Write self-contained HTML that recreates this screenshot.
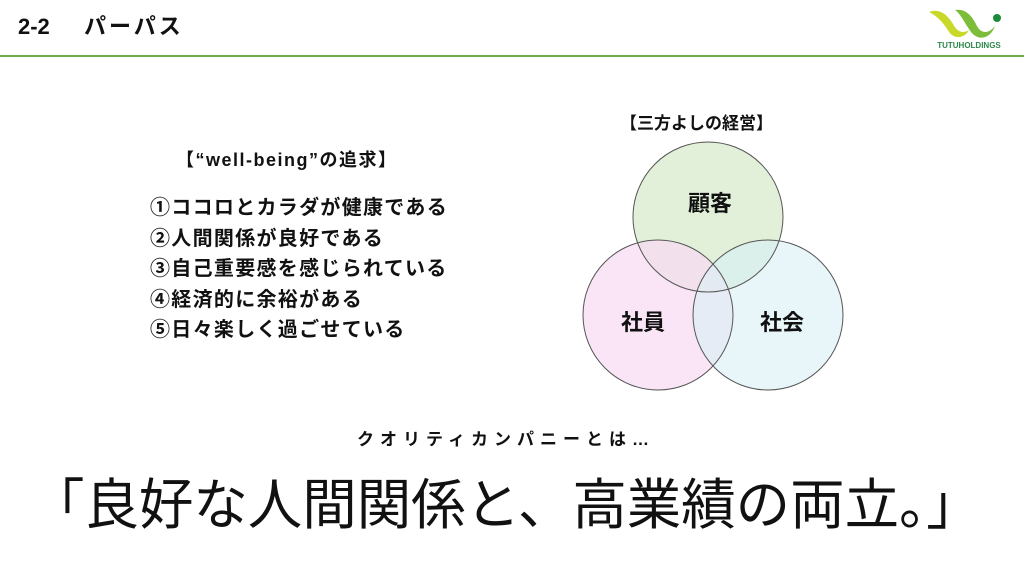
<!DOCTYPE html>
<html><head><meta charset="utf-8"><style>
body{margin:0;width:1024px;height:576px;background:#fff;position:relative;overflow:hidden;font-family:"Liberation Sans","Noto Sans CJK JP",sans-serif;color:#111}
.a{position:absolute;white-space:nowrap}
</style></head><body>
<div class="a" style="left:18px;top:13px;font-size:22px;font-weight:bold;line-height:28px">2-2</div>
<div class="a" style="left:84px;top:13px;font-size:22px;font-weight:bold;line-height:28px;letter-spacing:3px">パーパス</div>
<div class="a" style="left:0;top:55px;width:1024px;height:2px;background:#70ad47"></div>
<svg class="a" style="left:925px;top:4px" width="90" height="48" viewBox="0 0 90 48">
<path d="M4 8 C14 4 22 10 28 20 C32 28 38 30 44 26 C40 34 30 36 24 28 C18 18 12 12 4 8Z" fill="#c8d92a"/>
<path d="M30 6 C42 4 48 14 52 22 C56 30 64 30 70 22 C66 34 54 38 46 28 C40 20 36 10 30 6Z" fill="#7cbd3a"/>
<circle cx="72" cy="14" r="4" fill="#1d8a3c"/>
<text x="44" y="44" font-size="8" font-weight="bold" text-anchor="middle" fill="#2e8a4a" font-family="Liberation Sans,sans-serif">TUTUHOLDINGS</text>
</svg>
<div class="a" style="left:176px;top:149px;font-size:18px;font-weight:bold;line-height:22px;letter-spacing:1.5px">【“well-being”の追求】</div>
<div class="a" style="left:150px;top:193px;font-size:20px;font-weight:bold;line-height:30.5px;letter-spacing:1.3px">①ココロとカラダが健康である<br>②人間関係が良好である<br>③自己重要感を感じられている<br>④経済的に余裕がある<br>⑤日々楽しく過ごせている</div>
<div class="a" style="left:620px;top:113px;font-size:17px;font-weight:bold;line-height:22px">【三方よしの経営】</div>
<svg class="a" style="left:0;top:0" width="1024" height="576">
<circle cx="708" cy="217" r="75" fill="#e2f0d9"/>
<circle cx="658" cy="315" r="75" fill="#f7dcf2" fill-opacity="0.75"/>
<circle cx="768" cy="315" r="75" fill="#d9f0f7" fill-opacity="0.6"/>
<g fill="none" stroke="#555" stroke-width="1">
<circle cx="708" cy="217" r="75"/><circle cx="658" cy="315" r="75"/><circle cx="768" cy="315" r="75"/></g>
<g font-size="22" font-weight="bold" text-anchor="middle" fill="#111" font-family="Liberation Sans,Noto Sans CJK JP,sans-serif">
<text x="710" y="211">顧客</text><text x="643" y="330">社員</text><text x="782" y="330">社会</text></g>
</svg>
<div class="a" style="left:357px;top:429px;font-size:17px;font-weight:bold;line-height:22px;letter-spacing:6px">クオリティカンパニーとは…</div>
<div class="a" style="left:30px;top:472px;font-size:55px;line-height:66px;font-weight:400;transform:scaleX(0.99);transform-origin:left top">「良好な人間関係と、高業績の両立。」</div>
</body></html>
